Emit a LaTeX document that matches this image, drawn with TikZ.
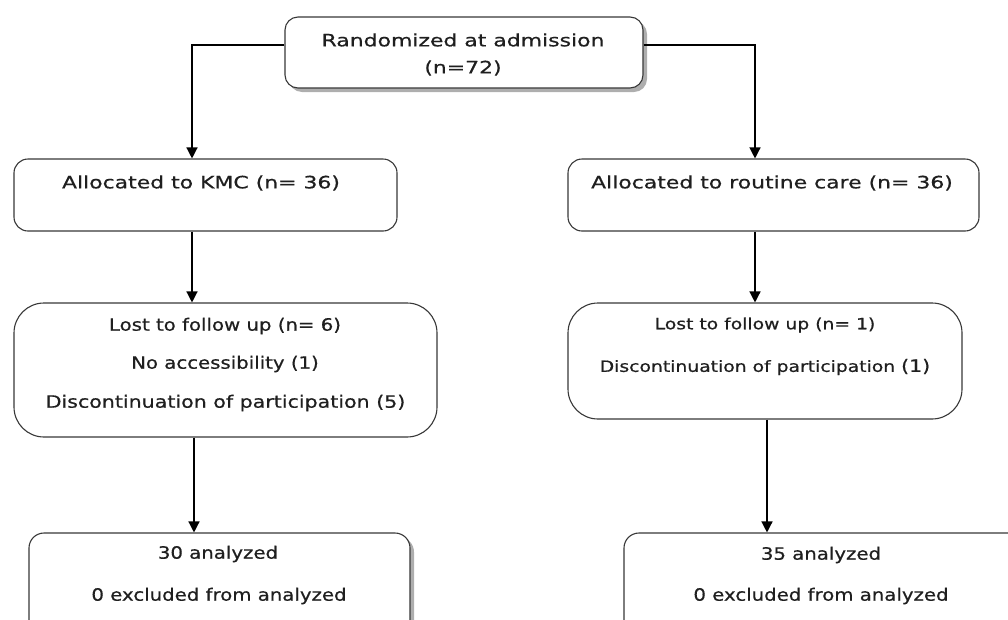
\documentclass[tikz,border=0pt]{standalone}
\usepackage{fontspec}
\setmainfont{DejaVu Sans}[FakeStretch=1.2]
\newfontfamily\fwide{DejaVu Sans}[FakeStretch=1.29, FakeBold=0.6]
\newfontfamily\fmid{DejaVu Sans}[FakeStretch=1.16, FakeBold=0.6]
\newfontfamily\fright{DejaVu Sans}[FakeStretch=1.21, FakeBold=0.6]
\usetikzlibrary{shadows,arrows.meta,calc}
\begin{document}
\begin{tikzpicture}[x=1pt,y=-1pt,
  box/.style={draw=black!78, line width=1.1pt, fill=white, inner sep=0pt, rounded corners=#1},
  box/.default=13pt,
  sh/.style={drop shadow={shadow xshift=4pt, shadow yshift=-4pt, fill=black!45, opacity=0.7}},
  txt/.style={inner sep=0pt, font=\fmid\fontsize{17}{20}\selectfont, text=black!88, anchor=center},
  wtxt/.style={txt, font=\fwide\fontsize{17}{20}\selectfont},
  rtxt/.style={txt, font=\fright\fontsize{15.5}{18}\selectfont},
  arr/.style={line width=1.3pt, -{Triangle[width=11pt,length=11pt]}}
]
\useasboundingbox (0,0) rectangle (1008,619);
\clip (0,0) rectangle (1008,619);
% boxes
\node[box=13pt, sh, minimum width=358pt, minimum height=71pt] (top) at (464,52.5) {};
\node[box=14pt, minimum width=383pt, minimum height=72pt] (kmc) at (205.5,195) {};
\node[box=14pt, minimum width=411pt, minimum height=72pt] (rout) at (773.5,195) {};
\node[box=30pt, minimum width=423pt, minimum height=134pt] (lostL) at (225.5,370) {};
\node[box=30pt, minimum width=394pt, minimum height=116pt] (lostR) at (765,361) {};
\node[box=15pt, sh, minimum width=381pt, minimum height=107pt] (anaL) at (219.5,586.5) {};
\node[box=15pt, sh, minimum width=406pt, minimum height=107pt] (anaR) at (827,586.5) {};
% texts
\node[wtxt] (t1) at (463,40) {Randomized at admission};
\node[wtxt] (t2) at (463,68) {(n=72)};
\node[wtxt] (t3) at (201,183) {Allocated to KMC (n= 36)};
\node[wtxt] (t4) at (772,183) {Allocated to routine care (n= 36)};
\node[txt] (t5) at (225,326) {Lost to follow up (n= 6)};
\node[txt] (t6) at (225,364) {No accessibility (1)};
\node[txt, font=\fright\fontsize{17}{20}\selectfont] (t7) at (225.5,403) {Discontinuation of participation (5)};
\node[rtxt] (t8) at (765,325) {Lost to follow up (n= 1)};
\node[rtxt] (t9) at (765,367) {Discontinuation of participation {\fontsize{17}{20}\selectfont(1)}};
\node[txt] (t10) at (218,554) {30 analyzed};
\node[txt] (t11) at (219,596) {0 excluded from analyzed};
\node[txt] (t12) at (821,555) {35 analyzed};
\node[txt] (t13) at (821,596) {0 excluded from analyzed};
% connectors
\draw[arr] ($(top.west)+(0,-7.5)$) -| ($(kmc.north)+(-13.5,0)$);
\draw[arr] ($(top.east)+(0,-7.5)$) -| ($(rout.north)+(-18.5,0)$);
\draw[arr] ($(kmc.south)+(-13.5,0)$) -- ($(lostL.north)+(-33.5,0)$);
\draw[arr] ($(rout.south)+(-18.5,0)$) -- ($(lostR.north)+(-10,0)$);
\draw[arr] ($(lostL.south)+(-31.5,0)$) -- ($(anaL.north)+(-25.5,0)$);
\draw[arr] ($(lostR.south)+(2,0)$) -- ($(anaR.north)+(-60,0)$);
\end{tikzpicture}
\end{document}
